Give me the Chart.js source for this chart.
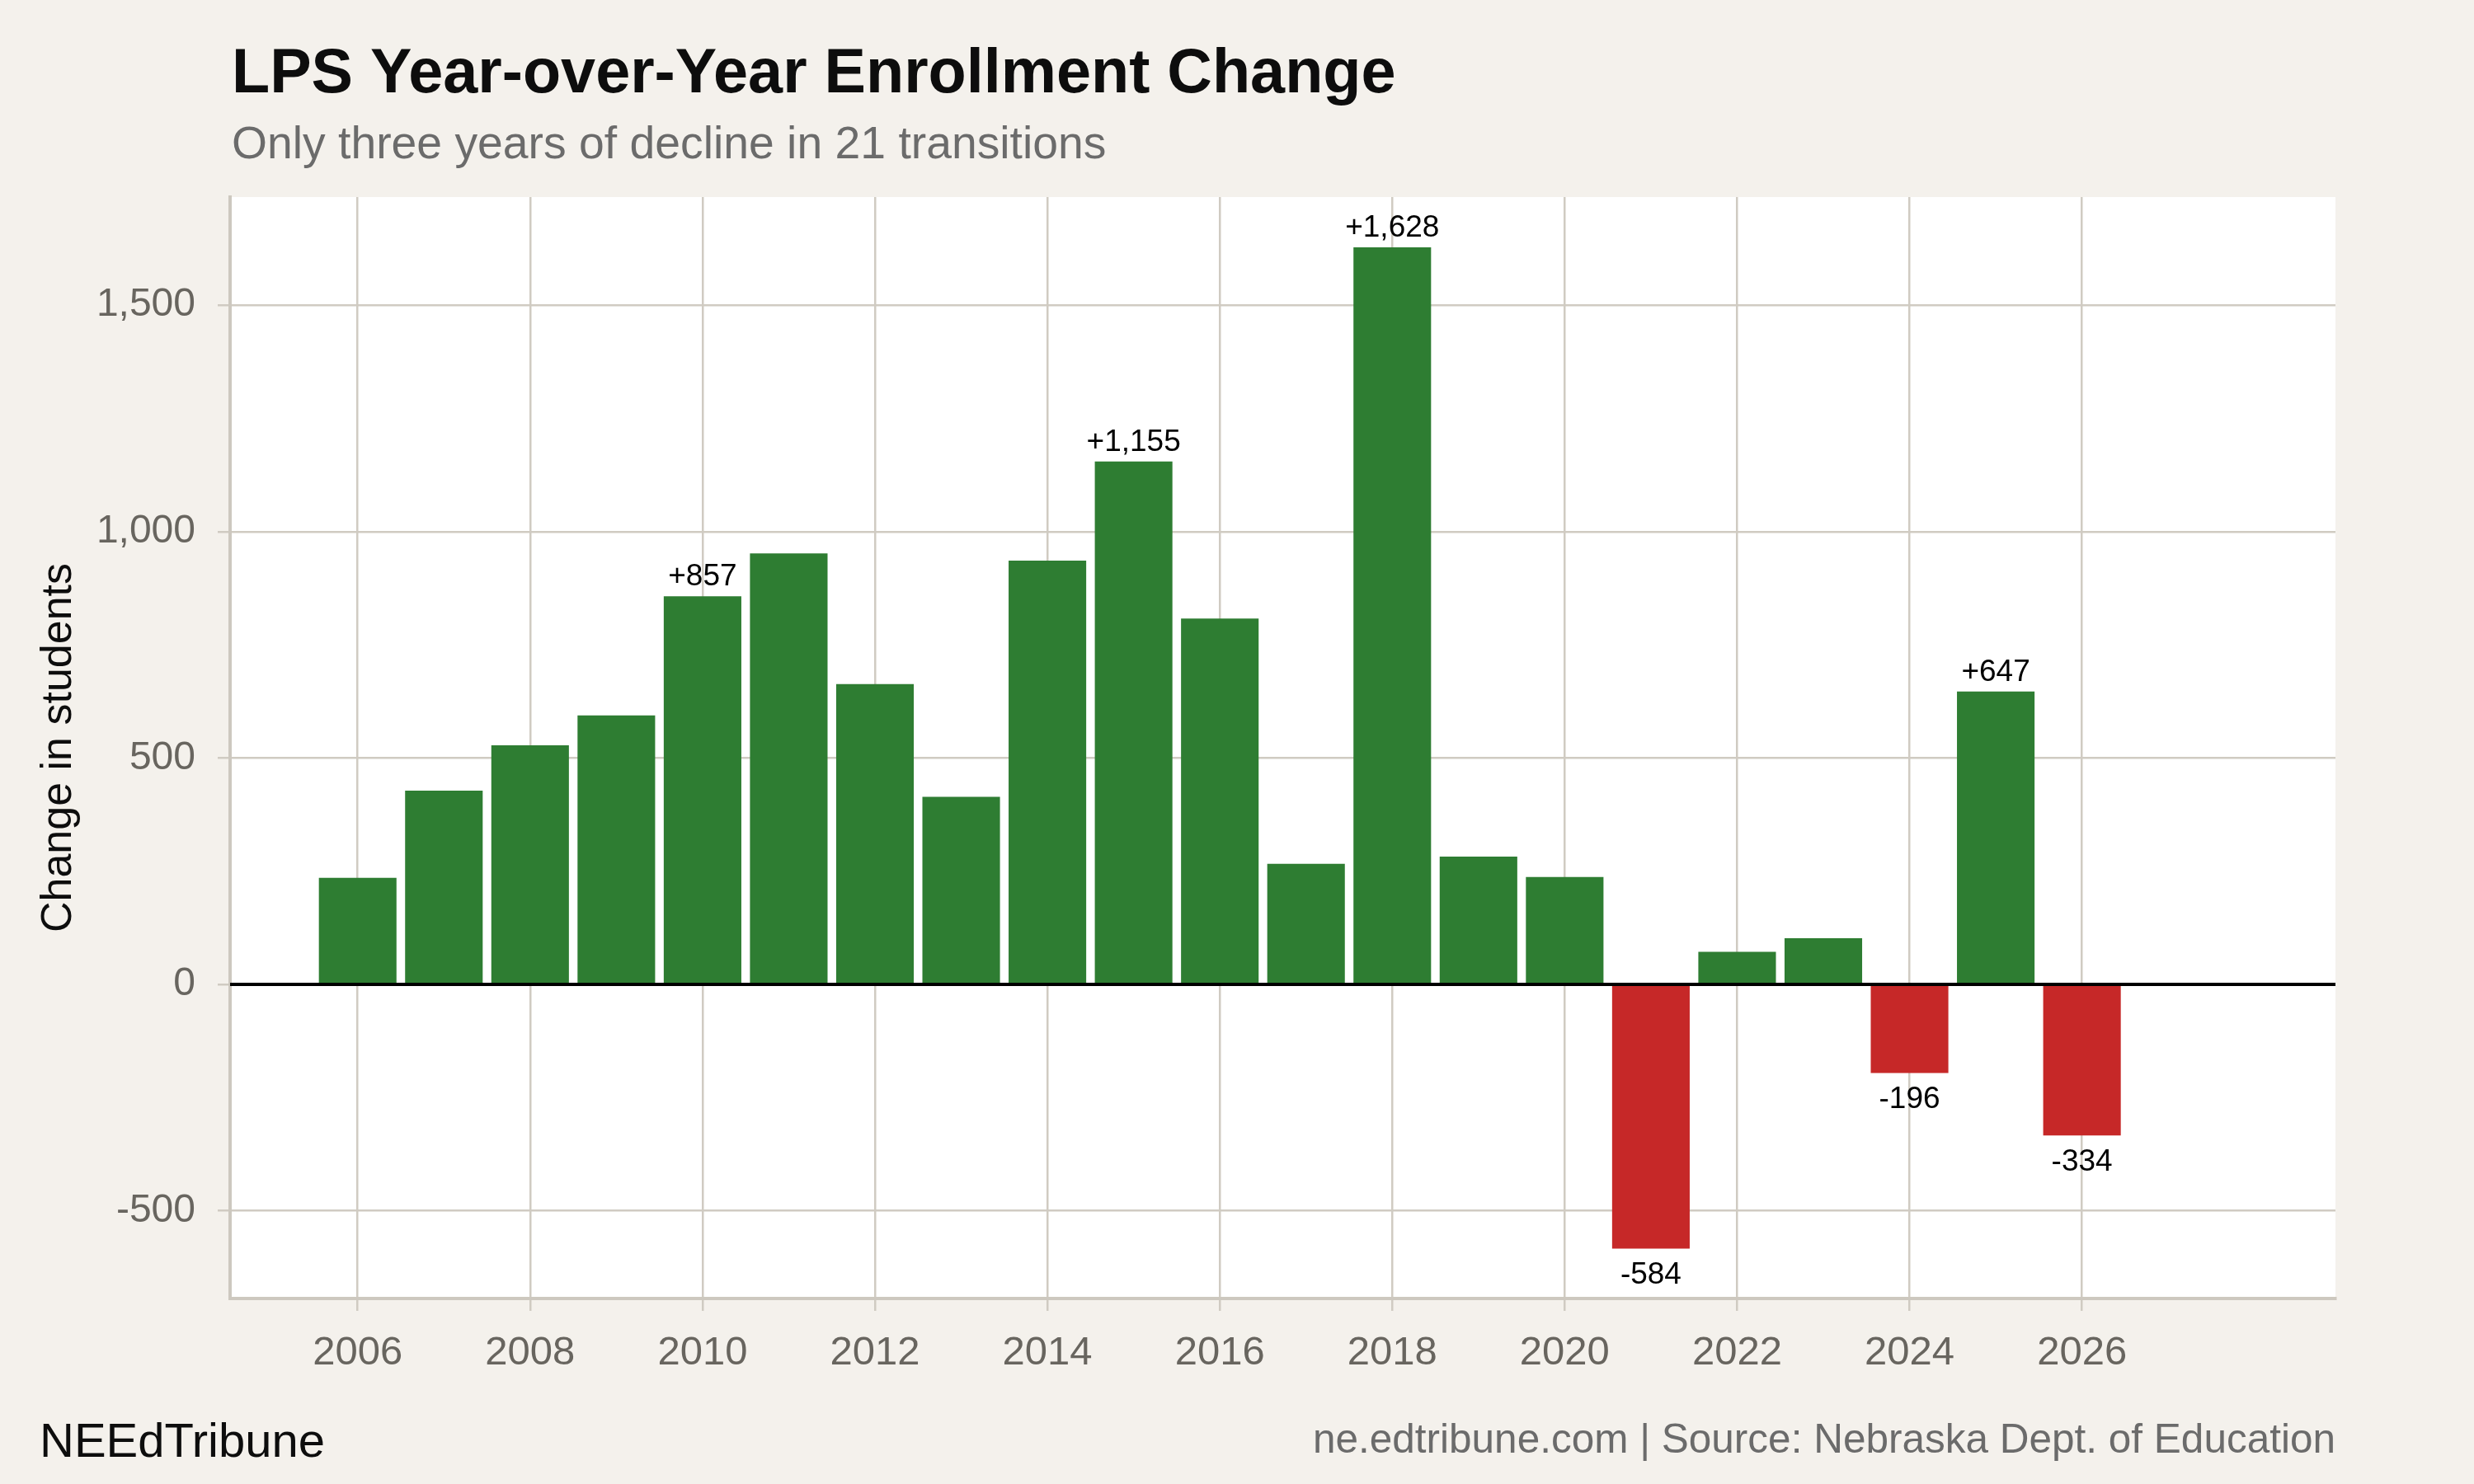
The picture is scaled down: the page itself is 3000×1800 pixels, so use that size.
<!DOCTYPE html>
<html>
<head>
<meta charset="utf-8">
<title>LPS Year-over-Year Enrollment Change</title>
<script src="https://cdn.jsdelivr.net/npm/chart.js@4.4.1/dist/chart.umd.min.js"></script>
<style>
  html, body { margin: 0; padding: 0; background: #f4f1ec; }
  #wrap { width: 3000px; height: 1800px; position: relative; }
</style>
</head>
<body>
<div id="wrap"><canvas id="enrollChart"></canvas></div>
<script>
// Year-over-year change in enrollment (students)
const years = [2006, 2007, 2008, 2009, 2010, 2011, 2012, 2013, 2014, 2015, 2016,
               2017, 2018, 2019, 2020, 2021, 2022, 2023, 2024, 2025, 2026];
const changes = [235, 428, 528, 594, 857, 952, 663, 414, 936, 1155, 808,
                 266, 1628, 282, 237, -584, 72, 102, -196, 647, -334];
// bars that carry a value label
const labelledYears = [2010, 2015, 2018, 2021, 2024, 2025, 2026];
const xTicks = [2006, 2008, 2010, 2012, 2014, 2016, 2018, 2020, 2022, 2024, 2026];
const yTicks = [-500, 0, 500, 1000, 1500];

const FONT = '"Liberation Sans", Arial, Helvetica, sans-serif';
const GREEN = "#2e7d32";
const RED = "#c62828";
const GRID = "#d0cbc2";
const TICK_TEXT = "#68655f";

function fmt(v) {
    return (v > 0 ? "+" : "") + v.toLocaleString("en-US");
}

const decorations = {
    id: "decorations",
    beforeDraw(chart) {
        const ctx = chart.ctx;
        const a = chart.chartArea;
        ctx.save();
        ctx.fillStyle = "#f4f1ec";
        ctx.fillRect(0, 0, chart.width, chart.height);
        ctx.fillStyle = "#ffffff";
        ctx.fillRect(a.left, a.top, a.right - a.left, a.bottom - a.top);
        ctx.restore();
    },
    afterDatasetsDraw(chart) {
        const ctx = chart.ctx;
        const a = chart.chartArea;
        const y0 = chart.scales.y.getPixelForValue(0);
        ctx.save();
        // zero line on top of the bars
        ctx.strokeStyle = "#000000";
        ctx.lineWidth = 4;
        ctx.beginPath();
        ctx.moveTo(a.left, y0);
        ctx.lineTo(a.right, y0);
        ctx.stroke();

        // value labels
        const meta = chart.getDatasetMeta(0);
        ctx.fillStyle = "#000000";
        ctx.font = "37px " + FONT;
        ctx.textAlign = "center";
        years.forEach((yr, i) => {
            if (!labelledYears.includes(yr)) return;
            const bar = meta.data[i];
            const v = changes[i];
            if (v >= 0) {
                ctx.textBaseline = "alphabetic";
                ctx.fillText(fmt(v), bar.x, bar.y - 13);
            } else {
                ctx.textBaseline = "top";
                ctx.fillText(fmt(v), bar.x, bar.y + 14);
            }
        });
        ctx.restore();
    },
    afterDraw(chart) {
        const ctx = chart.ctx;
        const left = chart.chartArea.left;
        const right = chart.chartArea.right;
        ctx.save();
        ctx.textBaseline = "alphabetic";
        ctx.textAlign = "left";
        ctx.fillStyle = "#0d0d0d";
        ctx.font = "bold 75.6px " + FONT;
        ctx.fillText("LPS Year-over-Year Enrollment Change", left + 2, 112);
        ctx.fillStyle = "#6b6b6b";
        ctx.font = "55.3px " + FONT;
        ctx.fillText("Only three years of decline in 21 transitions", left + 2, 192);

        // footer
        ctx.fillStyle = "#0d0d0d";
        ctx.font = "58px " + FONT;
        ctx.fillText("NEEdTribune", 48, 1767);
        ctx.textAlign = "right";
        ctx.fillStyle = "#6b6b6b";
        ctx.font = "49.5px " + FONT;
        ctx.fillText("ne.edtribune.com | Source: Nebraska Dept. of Education", right, 1762);
        ctx.restore();
    }
};

const ctx = document.getElementById("enrollChart").getContext("2d");

new Chart(ctx, {
    type: "bar",
    data: {
        datasets: [{
            label: "Change in students",
            data: years.map((yr, i) => ({ x: yr, y: changes[i] })),
            backgroundColor: changes.map(v => v < 0 ? RED : GREEN),
            borderWidth: 0,
            barPercentage: 0.9,
            categoryPercentage: 1.0
        }]
    },
    options: {
        responsive: true,
        maintainAspectRatio: false,
        devicePixelRatio: 1,
        animation: false,
        layout: { padding: { top: 239, right: 168, bottom: 125, left: 0 } },
        plugins: {
            legend: { display: false },
            tooltip: { enabled: false },
            title: { display: false }
        },
        scales: {
            x: {
                type: "linear",
                min: 2004.52,
                max: 2028.94,
                offset: false,
                afterBuildTicks: s => { s.ticks = xTicks.map(v => ({ value: v })); },
                afterFit: s => { s.height = 100; },
                grid: { color: GRID, lineWidth: 2.5, tickLength: 15, offset: false, drawTicks: true },
                border: { display: true, color: "#cdc8bf", width: 4 },
                ticks: {
                    font: { family: FONT, size: 49 },
                    color: TICK_TEXT,
                    padding: 22,
                    maxRotation: 0,
                    autoSkip: false,
                    callback: v => String(v)
                }
            },
            y: {
                min: -694,
                max: 1739,
                afterBuildTicks: s => { s.ticks = yTicks.map(v => ({ value: v })); },
                afterFit: s => { s.width = 279; },
                grid: { color: GRID, lineWidth: 2.5, tickLength: 15, drawTicks: true },
                border: { display: true, color: "#cdc8bf", width: 4 },
                ticks: {
                    font: { family: FONT, size: 48 },
                    color: TICK_TEXT,
                    padding: 27,
                    callback: v => v.toLocaleString("en-US")
                },
                title: {
                    display: true,
                    text: "Change in students",
                    color: "#0d0d0d",
                    font: { family: FONT, size: 52 },
                    padding: { top: 40, bottom: 0 }
                }
            }
        }
    },
    plugins: [decorations]
});
</script>
</body>
</html>
